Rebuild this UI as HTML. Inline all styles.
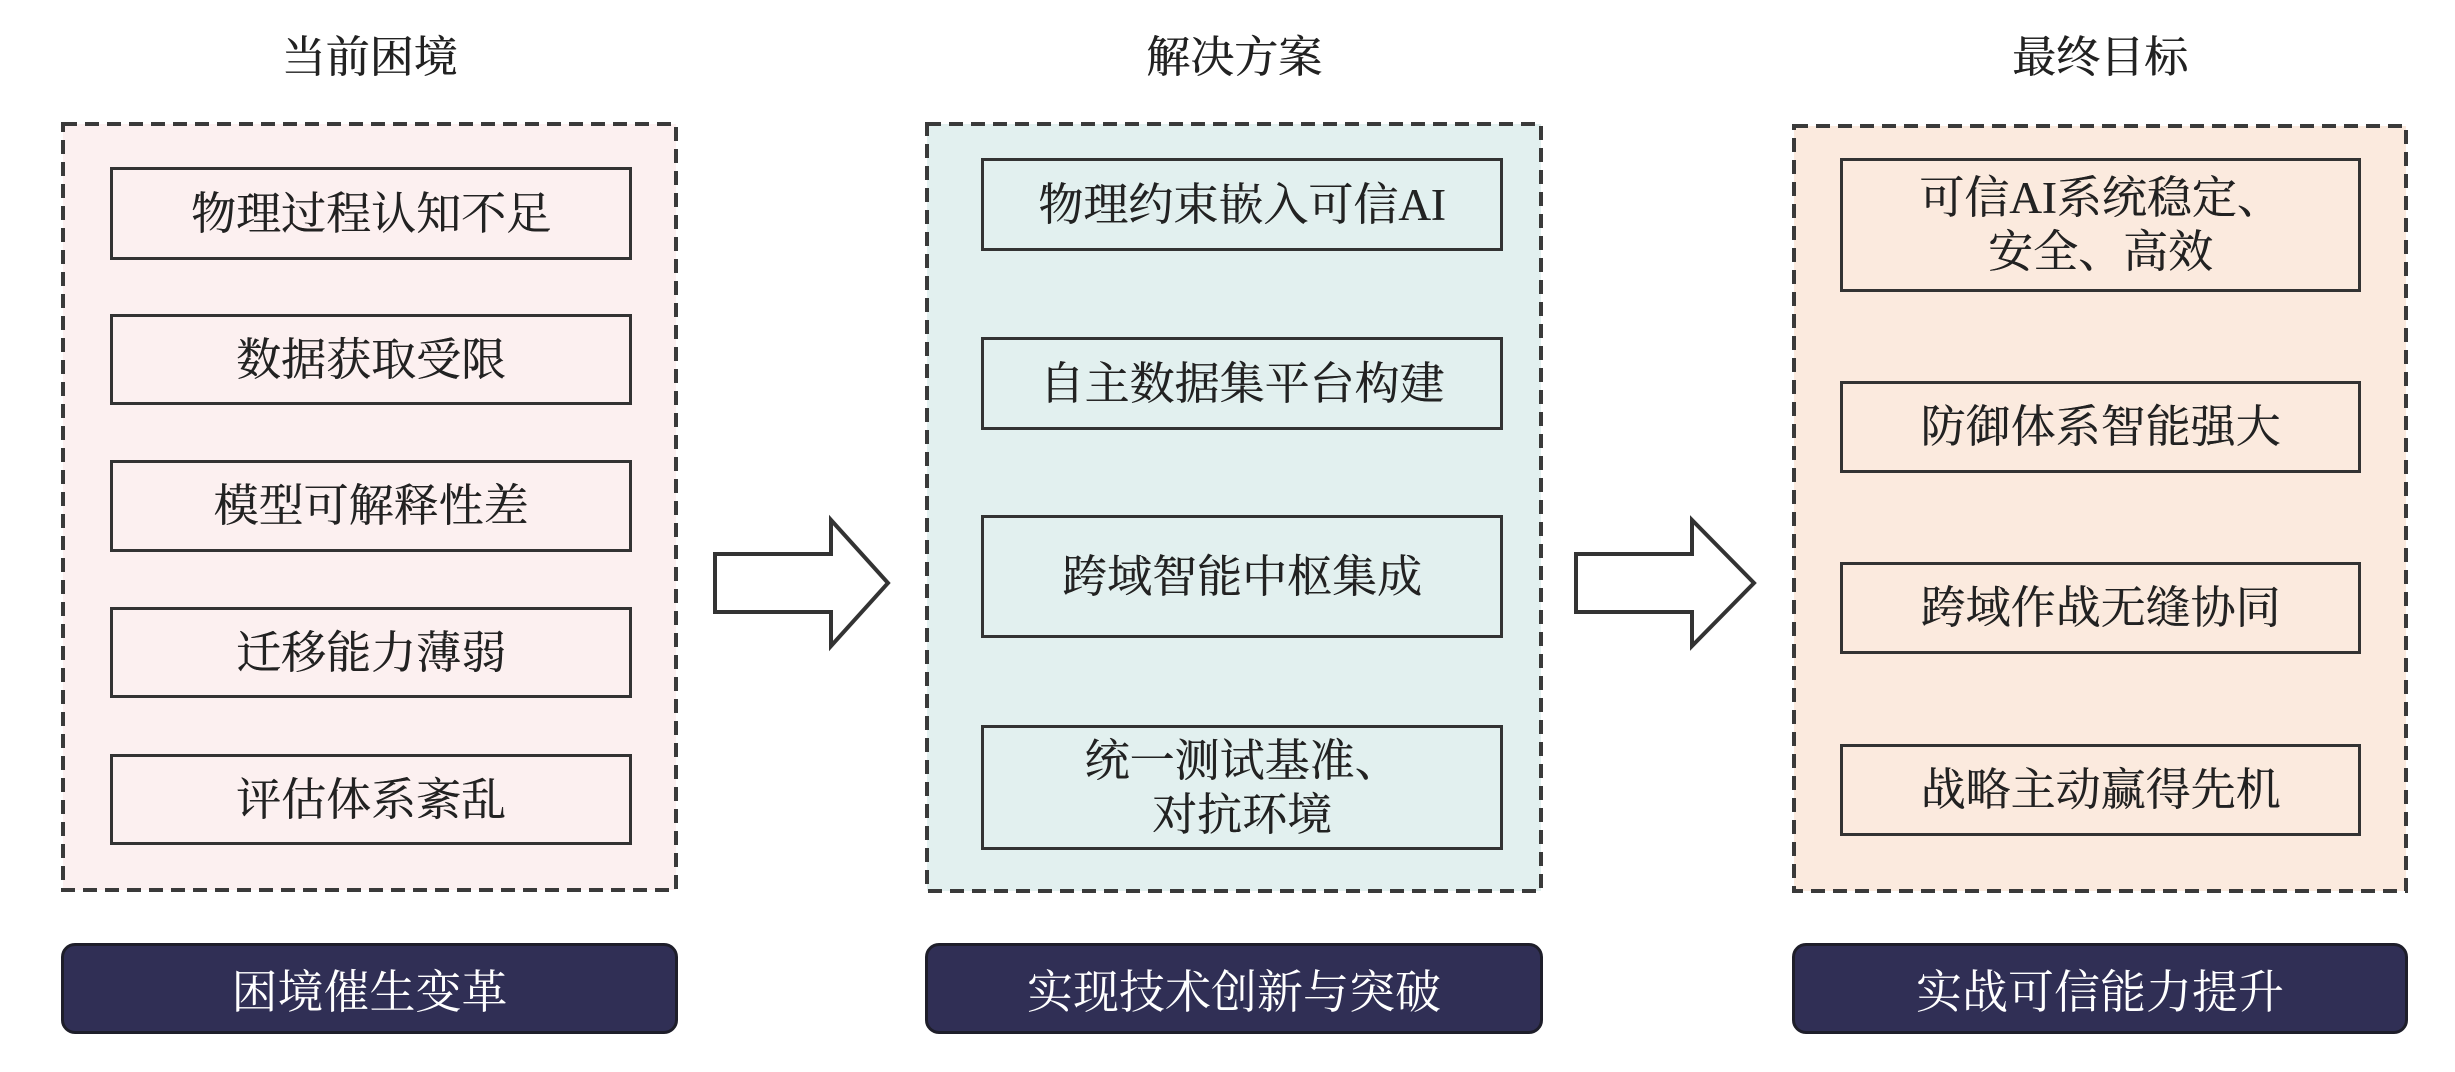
<!DOCTYPE html>
<html><head><meta charset="utf-8"><style>
body{margin:0;width:2455px;height:1072px;background:#fff;position:relative;overflow:hidden;font-family:"Liberation Serif","Noto Serif CJK SC",serif;}
.a{position:absolute;box-sizing:border-box;}
.t{font-size:44px;font-weight:normal;color:#222;text-align:center;line-height:60px;text-shadow:0.6px 0 0 #222;}
.b{border:3px solid #333;display:flex;align-items:center;justify-content:center;text-align:center;font-size:45px;line-height:54px;color:#222;text-shadow:0.4px 0 0 #222;}
.bar{background:#302f55;border:3px solid #1e1e2a;border-radius:14px;color:#fff;font-size:46px;display:flex;align-items:center;justify-content:center;}
</style></head><body>
<svg class="a" style="left:0;top:0" width="2455" height="1072">
<rect x="63" y="124" width="613" height="766" fill="#fcf0f0" stroke="#3a3a3a" stroke-width="4" stroke-dasharray="14 8"/>
<rect x="927" y="124" width="614" height="767" fill="#e2f0ef" stroke="#3a3a3a" stroke-width="4" stroke-dasharray="14 8"/>
<rect x="1794" y="126" width="612" height="765" fill="#fbeade" stroke="#3a3a3a" stroke-width="4" stroke-dasharray="14 8"/>
</svg>
<div class="a t" style="left:61px;top:28px;width:617px;">当前困境</div>
<div class="a t" style="left:925px;top:28px;width:618px;">解决方案</div>
<div class="a t" style="left:1792px;top:28px;width:616px;">最终目标</div>

<div class="a b" style="left:110px;top:167px;width:522px;height:93px;">物理过程认知不足</div>
<div class="a b" style="left:110px;top:314px;width:522px;height:91px;">数据获取受限</div>
<div class="a b" style="left:110px;top:460px;width:522px;height:92px;">模型可解释性差</div>
<div class="a b" style="left:110px;top:607px;width:522px;height:91px;">迁移能力薄弱</div>
<div class="a b" style="left:110px;top:754px;width:522px;height:91px;">评估体系紊乱</div>

<div class="a b" style="left:981px;top:158px;width:522px;height:93px;">物理约束嵌入可信AI</div>
<div class="a b" style="left:981px;top:337px;width:522px;height:93px;">自主数据集平台构建</div>
<div class="a b" style="left:981px;top:515px;width:522px;height:123px;">跨域智能中枢集成</div>
<div class="a b" style="left:981px;top:725px;width:522px;height:125px;">统一测试基准、<br>对抗环境</div>

<div class="a b" style="left:1840px;top:158px;width:521px;height:134px;">可信AI系统稳定、<br>安全、高效</div>
<div class="a b" style="left:1840px;top:381px;width:521px;height:92px;">防御体系智能强大</div>
<div class="a b" style="left:1840px;top:562px;width:521px;height:92px;">跨域作战无缝协同</div>
<div class="a b" style="left:1840px;top:744px;width:521px;height:92px;">战略主动赢得先机</div>

<div class="a bar" style="left:61px;top:943px;width:617px;height:91px;">困境催生变革</div>
<div class="a bar" style="left:925px;top:943px;width:618px;height:91px;">实现技术创新与突破</div>
<div class="a bar" style="left:1792px;top:943px;width:616px;height:91px;">实战可信能力提升</div>

<svg class="a" style="left:0;top:0" width="2455" height="1072">
<polygon points="715,554 831,554 831,520 888,583 831,646 831,612 715,612" fill="#fff" stroke="#333" stroke-width="4"/>
<polygon points="1576,554 1692,554 1692,520 1754,583 1692,646 1692,612 1576,612" fill="#fff" stroke="#333" stroke-width="4"/>
</svg>
</body></html>
